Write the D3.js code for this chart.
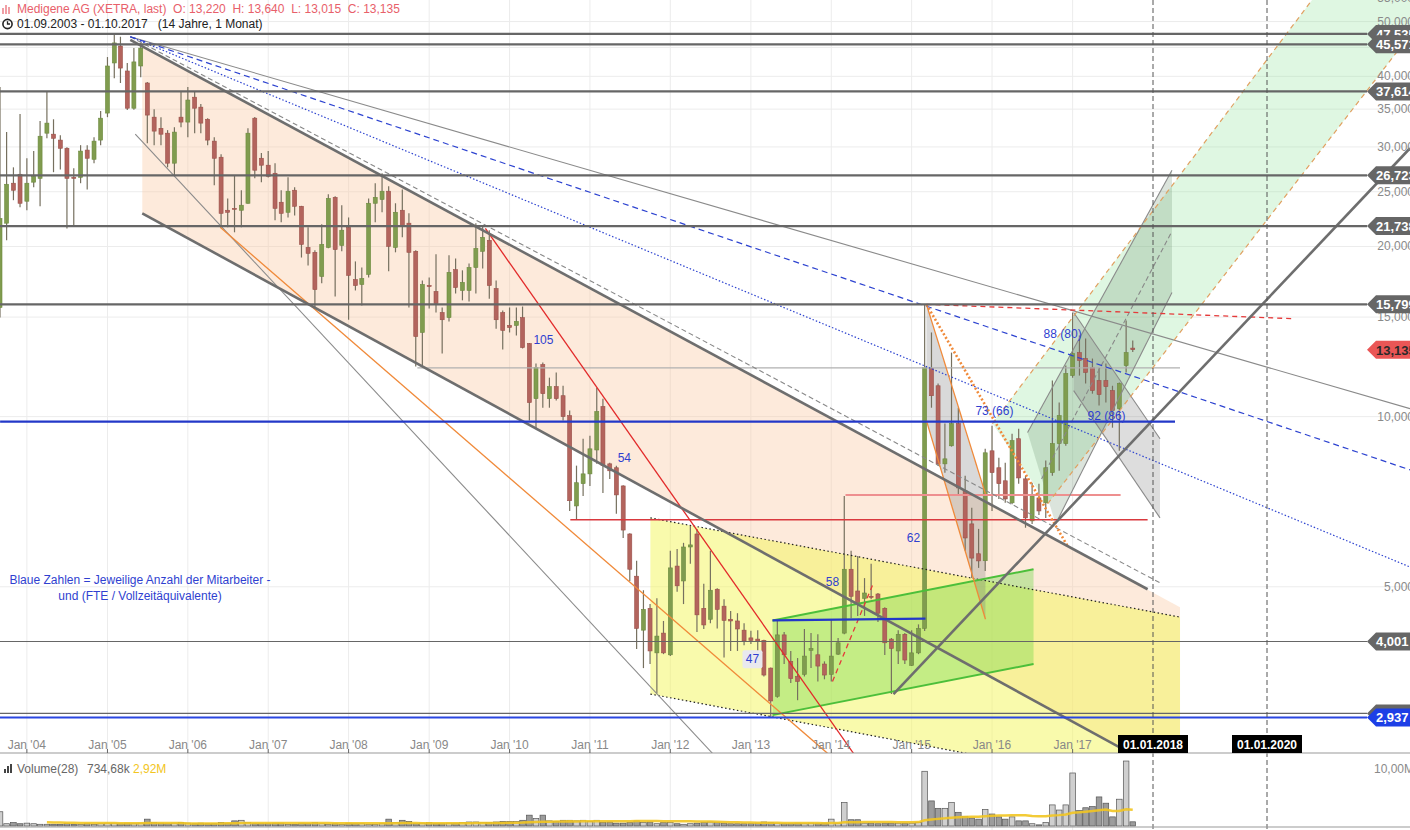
<!DOCTYPE html>
<html><head><meta charset="utf-8">
<script src="https://cdn.jsdelivr.net/npm/d3@7"></script>
<style>
html,body{margin:0;padding:0;background:#fff;overflow:hidden;}
svg{display:block;font-family:Arial,"Liberation Sans",sans-serif;}
</style></head><body>
<svg id="c" width="1410" height="830"></svg>
<script>
// ---------------- DATA ----------------
const startMonth = new Date(2003, 8, 1), endMonth = new Date(2017, 10, 1);
const open = [15.60,21.99,25.88,26.84,24.05,25.99,26.40,31.73,31.60,30.85,29.84,26.51,26.51,29.62,28.53,30.85,34.44,42.24,45.26,40.88,35.13,41.72,38.93,33.87,32.37,31.73,28.08,33.87,33.20,36.74,35.28,33.58,30.72,28.77,23.18,23.36,23.18,23.85,33.73,28.65,27.85,26.95,23.95,22.99,25.15,23.56,19.92,19.53,17.70,19.92,24.43,20.09,21.62,17.48,17.13,17.85,23.85,24.22,25.05,19.92,23.18,21.99,19.61,14.09,17.06,16.65,15.28,14.97,18.20,16.72,16.72,18.36,19.61,20.51,16.85,15.28,14.50,14.50,14.97,13.47,10.76,12.36,10.76,11.30,10.89,10.04,6.95,7.61,7.92,8.73,10.42,8.25,8.12,7.54,6.20,5.22,4.19,4.58,3.82,4.14,3.79,5.44,5.12,5.88,6.20,4.58,4.38,4.95,4.62,4.38,4.35,4.19,4.06,4.04,4.02,3.59,3.20,4.11,3.69,3.47,3.50,3.86,3.79,3.65,3.50,3.80,4.14,5.37,4.915,4.77,4.81,4.855,4.58,4.04,3.85,4.12,3.63,3.82,4.22,12.16,11.34,8.25,8.88,9.72,7.39,6.46,5.72,5.56,8.70,8.12,7.70,7.04,9.14,7.76,6.54,7.18,7.04,7.96,8.96,8.96,11.82,12.98,12.67,12.21,11.58,11.58,11.12,10.33,12.31,13.22];
const high = [38.28,31.87,27.61,34.30,28.65,29.50,33.33,37.67,33.58,31.47,29.96,27.50,30.22,30.22,31.21,34.73,43.27,47.54,47.00,42.24,44.88,45.83,39.09,34.98,33.87,32.13,32.51,37.52,38.28,37.52,35.72,33.73,31.21,29.13,24.33,26.73,25.15,32.37,33.90,29.26,29.50,28.08,25.15,26.51,25.45,23.60,21.62,19.69,21.89,24.74,24.53,23.66,22.51,18.82,18.36,24.33,25.88,26.95,25.56,23.85,25.23,22.89,19.70,17.42,17.63,19.37,15.60,19.29,19.04,18.15,18.67,21.99,21.80,21.37,17.42,15.41,15.60,15.60,15.66,13.50,12.42,12.47,11.72,11.97,11.34,10.25,8.19,9.14,9.25,11.25,10.76,8.29,8.19,7.56,6.22,5.56,4.93,4.66,4.77,4.35,5.79,5.83,5.98,6.41,6.33,5.06,5.79,4.97,4.75,4.53,4.49,4.31,4.18,4.19,4.03,3.60,4.36,4.16,3.85,3.74,4.21,4.14,4.12,3.69,4.38,4.06,7.24,5.79,5.67,5.18,5.49,4.875,4.60,4.06,4.19,4.14,4.19,4.29,15.799,14.09,11.44,9.72,12.98,10.37,7.86,6.90,6.33,8.77,9.64,8.46,8.29,9.33,9.52,7.86,7.64,7.61,8.36,11.58,10.59,12.31,15.28,13.92,13.75,12.67,12.21,12.42,11.34,11.49,14.80,13.64];
const low = [14.97,20.51,24.15,23.46,23.18,25.45,23.56,31.08,27.07,27.38,21.53,21.80,25.88,25.23,28.08,30.22,33.87,39.70,38.93,34.87,34.90,39.87,30.47,30.22,30.22,27.61,26.73,32.51,31.21,31.73,31.73,30.22,25.66,21.62,21.62,21.19,21.62,23.80,26.40,25.99,26.50,22.26,22.08,22.51,22.70,19.12,18.51,15.60,17.21,19.85,16.31,19.61,14.84,16.72,15.73,17.63,22.08,22.99,18.08,19.53,20.76,15.60,12.26,12.26,15.53,15.28,12.93,14.74,16.51,16.06,15.99,16.51,18.28,16.17,14.31,13.14,14.09,13.92,13.20,9.84,9.52,10.37,10.37,10.68,9.84,6.81,6.59,7.24,7.54,8.25,7.33,7.76,6.73,6.10,5.12,3.88,3.59,3.65,3.24,3.80,3.77,4.90,4.66,5.49,4.16,4.21,4.31,4.22,3.75,3.85,3.85,3.94,3.96,3.74,3.47,2.937,3.18,3.65,3.38,3.15,3.47,3.59,3.40,3.43,3.40,3.785,4.12,4.40,4.44,4.44,4.75,4.33,3.785,3.23,3.65,3.65,3.62,3.80,4.175,10.37,8.19,7.96,8.85,7.30,5.79,5.18,5.40,5.33,6.81,7.15,7.04,7.00,7.61,6.36,6.46,6.70,6.62,7.86,8.02,8.88,11.72,11.82,11.44,10.98,10.46,10.59,9.56,8.70,11.97,13.015];
const close = [22.42,25.77,25.15,23.85,25.88,26.62,31.34,33.06,31.08,29.84,26.40,26.40,29.50,28.65,30.72,33.73,41.72,45.83,41.37,35.13,42.42,44.88,34.16,32.00,31.60,28.08,31.87,33.20,36.32,35.13,33.06,30.85,28.65,22.89,22.99,23.30,23.66,31.73,27.29,27.85,26.62,23.36,22.89,25.05,23.56,20.17,19.45,16.78,20.17,24.33,19.75,21.37,17.78,17.06,17.55,23.85,24.43,25.05,20.01,22.99,21.71,19.53,13.86,17.13,16.99,15.86,14.84,18.00,16.92,17.28,18.36,19.84,20.76,17.06,14.84,14.21,14.38,14.74,13.25,10.59,12.21,10.98,11.30,10.76,10.00,7.10,7.64,7.92,8.77,10.21,8.19,8.02,7.27,6.30,5.37,4.22,4.56,3.85,4.09,3.82,5.40,5.02,5.88,5.93,4.46,4.28,4.93,4.56,4.36,4.35,4.21,4.01,4.02,4.01,3.49,3.14,4.11,3.79,3.44,3.40,3.77,3.89,3.62,3.49,3.77,3.98,5.37,4.81,4.66,4.875,4.79,4.49,3.98,3.89,4.12,3.71,3.82,4.22,12.21,10.89,8.25,8.42,9.72,7.48,6.10,5.62,5.556,8.63,7.96,7.61,7.15,9.07,7.79,6.62,7.24,6.81,8.12,8.96,10.04,11.92,12.93,12.57,11.97,11.12,10.94,11.30,10.25,11.44,12.98,13.135];
// monthly volume, millions
const volume = [2.5,0.4,0.6,0.4,0.5,0.4,0.3,0.3,0.3,0.3,0.4,0.3,0.3,0.4,0.3,0.4,0.5,0.5,0.4,0.5,0.4,0.5,1.2,0.6,0.5,0.4,0.5,0.6,0.5,0.4,0.5,0.4,0.4,0.6,0.5,0.9,1.0,0.6,0.4,0.4,0.4,0.5,0.5,0.3,0.3,0.5,0.4,0.6,0.4,0.3,0.4,0.3,0.5,0.4,0.4,0.3,0.3,0.4,1.2,0.6,1.0,0.8,0.4,0.5,0.6,0.4,0.4,0.5,0.5,0.6,0.7,0.7,0.6,0.6,0.7,0.8,0.8,0.8,1.0,1.9,1.3,1.9,0.9,0.8,1.0,1.0,0.9,1.0,0.8,1.0,0.6,0.7,0.5,0.5,0.6,0.9,0.6,0.7,0.4,0.6,0.6,0.4,0.3,0.4,0.5,0.6,0.7,0.6,0.5,0.4,0.4,0.4,0.4,0.5,0.7,0.6,0.5,0.4,0.4,0.5,0.4,0.5,0.4,0.5,1.2,0.5,4.1,1.1,1.1,0.5,0.5,0.4,0.5,0.5,0.5,0.5,0.5,0.6,9.6,4.4,3.1,3.1,4.1,2.4,1.7,1.4,1.2,2.9,2.1,1.6,1.2,1.6,0.9,0.9,0.4,0.2,0.6,3.7,2.8,3.7,9.3,2.7,3.2,3.4,5.1,4.0,1.6,4.7,11.4,0.73468];

const yTickValues = [5,10,15,20,25,30,35,40,45,50,55];
const levelsGray = [47.535, 45.571, 37.614, 26.723, 21.738, 15.799, 4.001, 2.985];
const levelBlue = 2.937;
const lastClose = 13.135;
const futureDates = ["2018-01-01", "2020-01-01"];
const futureLabels = ["01.01.2018", "01.01.2020"];

// drawings: [decimalYear, price] pairs
const peachChannel = [[2005.433,45.19],[2018.474,4.60],[2018.474,2.263],[2005.433,22.89]];
const yellowChannel = [[2011.752,6.62],[2018.474,4.42],[2018.474,2.155],[2011.752,3.23]];
const greenChannel = [[2013.269,4.36],[2016.515,5.37],[2016.515,3.65],[2013.269,2.964]];
const bigGreenChannel = [[2016.005,9.72],[2020.789,54.59],[2022.509,54.59],[2022.509,47.34],[2016.689,7.01]];
const innerGreenBand = [[2016.441,9.37],[2018.333,27.29],[2018.333,16.58],[2016.789,6.46]];
const grayBand1 = [[2015.184,15.799],[2015.918,7.30],[2015.918,4.38],[2015.184,9.84]];
const grayBand2 = [[2017.013,15.28],[2018.123,9.14],[2018.123,6.62],[2017.013,11.12]];

// segments: [year1, price1, year2, price2]
const thickGrayLines = [[2005.284,46.40,2017.933,4.95],[2005.433,22.89,2017.722,2.537],[2014.774,3.23,2022.509,29.84]];
const thinGrayLines = [[2005.284,47.0,2022.509,10.33],[2005.346,31.60,2012.523,2.537],[2016.441,9.37,2018.333,27.29],[2016.789,6.46,2018.333,16.58],[2017.013,15.28,2018.123,9.14],[2017.013,11.12,2018.123,6.62]];
const lightGrayLines = [[2014.774,3.23,2016.515,5.90]];
const grayDashedLines = [[2005.284,47.0,2018.123,5.08],[2016.615,7.76,2018.333,21.28]];
const blueDashedLines = [[2005.284,47.0,2022.509,8.05]];
const blueDottedLines = [[2005.284,47.0,2022.509,5.42]];
const redLines = [[2009.699,21.53,2014.276,2.537]];
const orangeLines = [[2006.403,21.62,2013.953,2.537],[2015.184,15.799,2015.918,7.30],[2015.184,9.84,2015.918,4.38]];
const orangeDottedLines = [[2015.184,15.799,2016.938,5.90]];
const orangeDashedLines = [[2016.005,9.72,2020.789,54.59],[2016.689,7.01,2022.509,47.34]];
const redDashedLines = [[2015.184,15.799,2020.491,14.90],[2014.015,3.40,2014.525,5.08]];
const greenLines = [[2013.269,4.36,2016.515,5.37],[2013.269,2.964,2016.515,3.65]];
const blackDottedLines = [[2011.752,6.62,2018.474,4.42],[2011.752,3.23,2018.474,2.155]];
const blueThickSegs = [[2003.667,9.80,2018.386,9.80],[2013.269,4.36,2015.172,4.39]];
const lightGraySegs = [[2008.853,12.2,2018.474,12.2]];
const redSegs = [[2010.756,6.57,2017.933,6.57]];
const salmonSegs = [[2014.177,7.27,2017.597,7.27]];

const staffNotes = ["105","54","62","58","47","73 (66)","88 (80)","92 (86)"];
const staffAt = [[2010.421,13.64],[2011.428,8.45],[2015.023,6.10],[2014.015,5.10],[2013.020,3.72],[2016.030,10.25],[2016.876,13.98],[2017.423,10.04]];
const noteLines = ["Blaue Zahlen = Jeweilige Anzahl der Mitarbeiter -","und (FTE / Vollzeitäquivalente)"];

// ---------------- CHART ----------------
const W = 1410, H = 830, plotBottom = 753;
const svg = d3.select("#c");
const de = d3.formatLocale({decimal:",", thousands:".", grouping:[3], currency:["","€"]});
const f3 = de.format(".3f");

const months = d3.timeMonth.range(startMonth, endMonth);
const yd = v => { const yr = Math.floor(v), f = v - yr; const a = new Date(yr,0,1), b = new Date(yr+1,0,1); return new Date(+a + f*(b-a)); };

const x = d3.scaleTime()
  .domain([startMonth, new Date(2018,0,1), new Date(2020,0,1), yd(2022.509)])
  .range([0, 1153, 1267, W]);
const y = d3.scaleLog().domain([2.53, 54.59]).range([754, 0]);
const yv = d3.scaleLinear().domain([0, 10]).range([826, 769]);

const defs = svg.append("defs");
defs.append("clipPath").attr("id","pc").append("rect").attr("x",0).attr("y",0).attr("width",W).attr("height",plotBottom);
defs.append("clipPath").attr("id","vc").append("rect").attr("x",0).attr("y",plotBottom).attr("width",W).attr("height",H-plotBottom);

// grid
const grid = svg.append("g");
const yearTicks = d3.timeYear.range(new Date(2004,0,1), new Date(2018,0,1));
grid.selectAll("line.v").data(yearTicks).join("line")
  .attr("x1", d => x(d)).attr("x2", d => x(d)).attr("y1", 0).attr("y2", H)
  .attr("stroke", "#ececec").attr("stroke-width", 1);
grid.selectAll("line.h").data(yTickValues).join("line")
  .attr("x1", 0).attr("x2", W).attr("y1", d => y(d)).attr("y2", d => y(d))
  .attr("stroke", "#ececec").attr("stroke-width", 1);

const plot = svg.append("g").attr("clip-path", "url(#pc)");
const P = p => [x(yd(p[0])), y(p[1])];
const poly = (pts, fill) => plot.append("path").attr("d", "M" + pts.map(P).map(q => q.join(",")).join("L") + "Z").attr("fill", fill).attr("stroke", "none");

poly(peachChannel, "rgba(250,200,160,0.38)");
poly(yellowChannel, "rgba(243,245,90,0.5)");
poly(greenChannel, "rgba(110,215,70,0.38)");
poly(bigGreenChannel, "rgba(140,225,150,0.28)");
poly(innerGreenBand, "rgba(90,130,95,0.22)");
poly(grayBand1, "rgba(120,120,120,0.28)");
poly(grayBand2, "rgba(120,120,120,0.25)");

function segs(data, stroke, width, dash) {
  plot.append("g").selectAll("line").data(data).join("line")
    .attr("x1", d => x(yd(d[0]))).attr("y1", d => y(d[1]))
    .attr("x2", d => x(yd(d[2]))).attr("y2", d => y(d[3]))
    .attr("stroke", stroke).attr("stroke-width", width)
    .attr("stroke-dasharray", dash || null).attr("fill", "none");
}

// candles
const cg = plot.append("g");
cg.selectAll("line").data(months).join("line")
  .attr("x1", d => x(d)).attr("x2", d => x(d))
  .attr("y1", (d,i) => y(high[i])).attr("y2", (d,i) => y(low[i]))
  .attr("stroke", "#76705f").attr("stroke-width", 1.2);
cg.selectAll("rect").data(months).join("rect")
  .attr("x", d => x(d) - 2).attr("width", 4)
  .attr("y", (d,i) => y(Math.max(open[i], close[i])))
  .attr("height", (d,i) => Math.max(1, Math.abs(y(open[i]) - y(close[i]))))
  .attr("fill", (d,i) => close[i] >= open[i] ? "#809c4f" : "#b3645d")
  .attr("stroke", (d,i) => close[i] >= open[i] ? "#6c8a3e" : "#9a5049").attr("stroke-width", 0.6);

// drawings
segs(blackDottedLines, "#222", 1.2, "1.5,2.5");
segs(greenLines, "#4cbf3a", 2);
segs(lightGraySegs, "#b0b0b0", 1.2);
segs(redSegs, "#d9393e", 1.5);
segs(salmonSegs, "#ee8f8f", 2);
segs(lightGrayLines, "#b8b8b8", 1.1);
segs(thinGrayLines, "#8a8a8a", 1.1);
segs(grayDashedLines, "#888", 1.1, "5,3");
segs(blueDashedLines, "#2d43d0", 1.2, "6,4");
segs(blueDottedLines, "#2d43d0", 1.2, "1.5,2");
segs(redLines, "#e22a2a", 1.3);
segs(orangeLines, "#f08a3a", 1.3);
segs(orangeDottedLines, "#f08a3a", 2.6, "2,2.2");
segs(orangeDashedLines, "#e0a060", 1.2, "5,4");
segs(redDashedLines, "#e53a3a", 1.3, "5,4");
segs(thickGrayLines, "#6e6e6e", 2.6);
segs(blueThickSegs, "#2338c8", 2.2);

// horizontal levels
const tagTip = 1367, tagBody = 1376;
const lv = plot.append("g");
lv.selectAll("line").data(levelsGray).join("line")
  .attr("x1", 0).attr("x2", tagTip).attr("y1", d => y(d)).attr("y2", d => y(d))
  .attr("stroke", "#666").attr("stroke-width", d => d < 5 ? 1.2 : 2.2);
lv.append("line").attr("x1", 0).attr("x2", tagTip).attr("y1", y(levelBlue)).attr("y2", y(levelBlue))
  .attr("stroke", "#2a46e0").attr("stroke-width", 2);

// future date dashed lines
svg.append("g").selectAll("line").data(futureDates).join("line")
  .attr("x1", d => x(new Date(d))).attr("x2", d => x(new Date(d)))
  .attr("y1", 0).attr("y2", H).attr("stroke", "#555").attr("stroke-width", 1).attr("stroke-dasharray", "5,3");

// staff annotations
const ann = svg.append("g").attr("font-size", 12).attr("fill", "#2f3fd0");
staffNotes.forEach((t, i) => {
  const px = x(yd(staffAt[i][0])), py = y(staffAt[i][1]);
  if (t === "47") ann.append("rect").attr("x", px - 10).attr("y", py - 9).attr("width", 20).attr("height", 18).attr("rx", 2).attr("fill", "#e9e9ee");
  ann.append("text").attr("x", px).attr("y", py).attr("text-anchor", "middle").attr("dominant-baseline", "central").text(t);
});
ann.selectAll("text.n").data(noteLines).join("text")
  .attr("x", 140).attr("y", (d,i) => 580 + i*16).attr("text-anchor", "middle").attr("dominant-baseline", "central").text(d => d);

// y axis labels (right)
svg.append("g").selectAll("text").data(yTickValues).join("text")
  .attr("x", 1414).attr("y", d => y(d)).attr("text-anchor", "end").attr("dominant-baseline", "central")
  .attr("font-size", 12).attr("fill", "#8a8a8a").text(d => f3(d));

// tags
function tag(v, fill, color) {
  const ty = y(v);
  const g = svg.append("g");
  g.append("path").attr("d", `M${tagTip},${ty}L${tagBody},${ty-9}L1420,${ty-9}L1420,${ty+9}L${tagBody},${ty+9}Z`).attr("fill", fill);
  g.append("text").attr("x", tagBody).attr("y", ty + 0.5).attr("dominant-baseline", "central").attr("font-size", 13).attr("font-weight", "bold")
    .attr("fill", color).text(f3(v));
}
levelsGray.forEach(v => tag(v, "#666", "#fff"));
tag(levelBlue, "#1d3fe6", "#fff");
tag(lastClose, "#ea5656", "#2a2a2a");

// x axis
const xa = svg.append("g");
xa.append("line").attr("x1", 0).attr("x2", W).attr("y1", plotBottom).attr("y2", plotBottom).attr("stroke", "#999");
xa.selectAll("line.t").data(yearTicks).join("line")
  .attr("x1", d => x(d)).attr("x2", d => x(d)).attr("y1", plotBottom - 4).attr("y2", plotBottom).attr("stroke", "#666");
const fmtX = d3.timeFormat("%b '%y");
xa.selectAll("text").data(yearTicks).join("text")
  .attr("x", d => x(d)).attr("y", 745).attr("text-anchor", "middle").attr("dominant-baseline", "central")
  .attr("font-size", 12).attr("fill", "#888").text(d => fmtX(d));
futureDates.forEach((d, i) => {
  const px = x(new Date(d));
  xa.append("rect").attr("x", px - 35).attr("y", 735).attr("width", 70).attr("height", 18).attr("fill", "#000");
  xa.append("text").attr("x", px).attr("y", 744.5).attr("text-anchor", "middle").attr("dominant-baseline", "central")
    .attr("font-size", 12).attr("font-weight", "bold").attr("fill", "#fff").text(futureLabels[i]);
});

// volume
const vg = svg.append("g").attr("clip-path", "url(#vc)");
vg.selectAll("rect").data(months).join("rect")
  .attr("x", d => x(d) - 2.8).attr("width", 5.6)
  .attr("y", (d,i) => yv(volume[i])).attr("height", (d,i) => yv(0) - yv(volume[i]))
  .attr("fill", (d,i) => close[i] >= open[i] ? "#cfcfcf" : "#9c9c9c").attr("stroke", "#555").attr("stroke-width", 0.7);
const ma = months.map((d,i) => i < 7 ? null : d3.mean(volume.slice(Math.max(0, i-27), i+1)));
vg.append("path").datum(months.map((d,i) => [d, ma[i]]).filter(p => p[1] !== null))
  .attr("d", d3.line().x(p => x(p[0])).y(p => yv(p[1])))
  .attr("fill", "none").attr("stroke", "#f2c521").attr("stroke-width", 2.5).attr("stroke-opacity", 0.9);
svg.append("line").attr("x1", 0).attr("x2", W).attr("y1", 827).attr("y2", 827).attr("stroke", "#999");
svg.append("text").attr("x", 1414).attr("y", 769).attr("text-anchor", "end").attr("dominant-baseline", "central")
  .attr("font-size", 12).attr("fill", "#8a8a8a").text("10,00M");

// volume legend
const vl = svg.append("g").attr("font-size", 12);
[[4,4],[7,7],[10,9]].forEach(b => vl.append("rect").attr("x", b[0]).attr("y", 773 - b[1]).attr("width", 2).attr("height", b[1]).attr("fill", "#444"));
vl.append("text").attr("x", 17).attr("y", 769).attr("dominant-baseline", "central").attr("fill", "#666").text("Volume(28)");
vl.append("text").attr("x", 87).attr("y", 769).attr("dominant-baseline", "central").attr("fill", "#666").text("734,68k");
vl.append("text").attr("x", 133).attr("y", 769).attr("dominant-baseline", "central").attr("fill", "#f2c521").text("2,92M");

// header
const hd = svg.append("g").attr("font-size", 12);
[[3,6],[6,9],[9,7]].forEach(b => { hd.append("line").attr("x1", b[0]).attr("x2", b[0]).attr("y1", 14 - b[1]).attr("y2", 14).attr("stroke", "#e8606a").attr("stroke-width", 1.2); });
hd.append("text").attr("x", 17).attr("y", 9).attr("dominant-baseline", "central").attr("fill", "#e8606a")
  .style("white-space", "pre")
  .text("Medigene AG (XETRA, last)  O: " + f3(open[open.length-1]) + "  H: " + f3(high[high.length-1]) + "  L: " + f3(low[low.length-1]) + "  C: " + f3(close[close.length-1]));
hd.append("circle").attr("cx", 7.5).attr("cy", 24).attr("r", 4.6).attr("fill", "none").attr("stroke", "#222").attr("stroke-width", 1.6);
hd.append("path").attr("d", "M7.5,21.2V24H10").attr("fill", "none").attr("stroke", "#222").attr("stroke-width", 1.3);
hd.append("text").attr("x", 17).attr("y", 24).attr("dominant-baseline", "central").attr("fill", "#222")
  .style("white-space", "pre").text("01.09.2003 - 01.10.2017   (14 Jahre, 1 Monat)");
</script></body></html>
